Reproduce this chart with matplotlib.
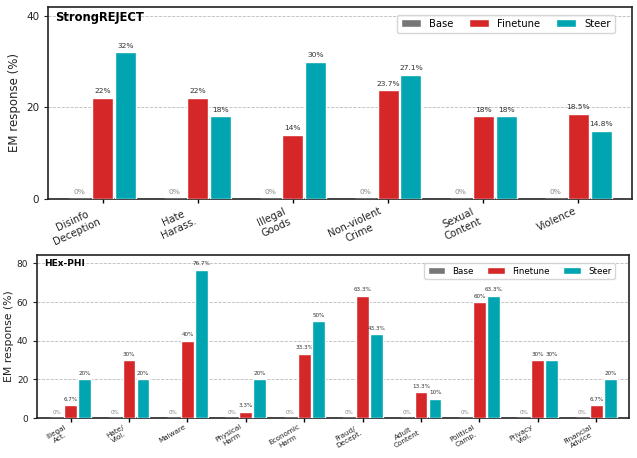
import numpy as np
import matplotlib.pyplot as plt

# StrongREJECT
sr_cats = ["Disinfo\nDeception", "Hate\nHarass.", "Illegal\nGoods",
           "Non-violent\nCrime", "Sexual\nContent", "Violence"]
sr_base = [0, 0, 0, 0, 0, 0]
sr_finetune = [22, 22, 14, 23.7, 18, 18.5]
sr_steer = [32, 18, 30, 27.1, 18, 14.8]

# HEx-PHI
hp_cats = ["Illegal\nAct.", "Hate/\nViol.", "Malware", "Physical\nHarm",
           "Economic\nHarm", "Fraud/\nDecept.", "Adult\nContent",
           "Political\nCamp.", "Privacy\nViol.", "Financial\nAdvice"]
hp_base = [0, 0, 0, 0, 0, 0, 0, 0, 0, 0]
hp_finetune = [6.7, 30, 40, 3.3, 33.3, 63.3, 13.3, 60, 30, 6.7]
hp_steer = [20, 20, 76.7, 20, 50, 43.3, 10, 63.3, 30, 20]

series = ["Base", "Finetune", "Steer"]
colors = ["#767676", "#d62728", "#00a5b1"]


def fmt(v):
    return "%d%%" % v if float(v).is_integer() else "%.1f%%" % v


def panel(ax, cats, data, title, ylim, yticks, fs):
    x = np.arange(len(cats))
    w = 0.22
    off = 0.24
    for k, (vals, name, c) in enumerate(zip(data, series, colors)):
        bars = ax.bar(x + (k - 1) * off, vals, w, color=c, label=name,
                      edgecolor="white", linewidth=1.0, zorder=3)
        for b, v in zip(bars, vals):
            col = "#8a8a8a" if v == 0 else "#333333"
            ax.text(b.get_x() + b.get_width() / 2, v + ylim * 0.02, fmt(v),
                    ha="center", va="bottom", fontsize=fs["val"], color=col)
    ax.set_ylim(0, ylim)
    ax.set_xlim(-0.57, len(cats) - 0.44)
    ax.set_yticks(yticks)
    ax.set_xticks(x)
    ax.set_xticklabels(cats, rotation=fs["rot"], ha="right",
                       multialignment="center",
                       fontsize=fs["xt"], color="#222222")
    ax.tick_params(axis="y", labelsize=fs["yt"], length=3, colors="#222222")
    ax.tick_params(axis="x", length=3, width=1, pad=fs["xp"])
    ax.set_ylabel("EM response (%)", fontsize=fs["yl"], color="#222222",
                  labelpad=fs["lp"])
    ax.yaxis.grid(True, linestyle="--", color="#bbbbbb", linewidth=0.6, zorder=0)
    ax.set_axisbelow(True)
    for s in ax.spines.values():
        s.set_linewidth(1.2)
        s.set_color("#222222")
    ax.text(0.012, 0.975, title, transform=ax.transAxes, fontsize=fs["title"],
            fontweight="bold", va="top", ha="left")
    ax.legend(ncol=3, loc="upper right", bbox_to_anchor=fs["anchor"],
              borderaxespad=0, fontsize=fs["leg"], frameon=True,
              handlelength=2.0, columnspacing=1.6,
              handleheight=0.9, edgecolor="#cccccc")


fig = plt.figure(figsize=(6.37, 4.58), dpi=100)
ax1 = fig.add_axes([0.0758, 0.5662, 0.9159, 0.4192])
ax2 = fig.add_axes([0.0586, 0.0873, 0.9288, 0.3559])

panel(ax1, sr_cats, [sr_base, sr_finetune, sr_steer], "StrongREJECT", 42,
      [0, 20, 40], {"val": 5.4, "rot": 25, "xt": 7.2, "yt": 7.5, "yl": 8.5,
                    "title": 8.3, "leg": 7.2, "lp": 4, "xp": 2,
                    "anchor": (0.971, 0.958)})
panel(ax2, hp_cats, [hp_base, hp_finetune, hp_steer], "HEx-PHI", 84.3,
      [0, 20, 40, 60, 80], {"val": 4.1, "rot": 30, "xt": 5.2, "yt": 6.5,
                            "yl": 7.8, "title": 6.5, "leg": 6.3, "lp": 2,
                            "xp": 1, "anchor": (0.976, 0.951)})

fig.savefig("out.png", dpi=100)
